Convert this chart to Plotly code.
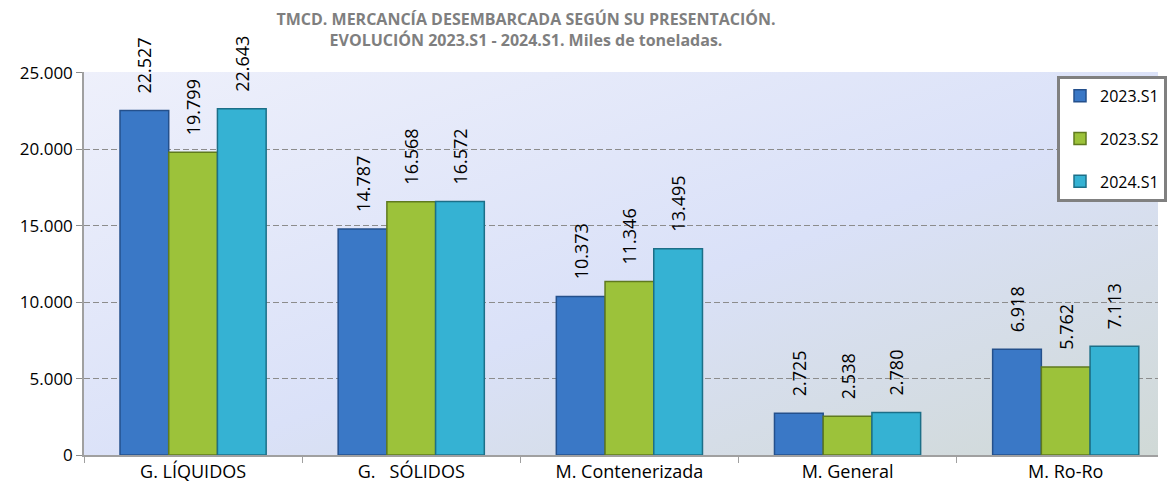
import plotly.graph_objects as go

categories = ['G. LÍQUIDOS', 'G.\u00a0\u00a0\u00a0SÓLIDOS', 'M. Contenerizada', 'M. General', 'M. Ro-Ro']
s2023_1 = [22527, 14787, 10373, 2725, 6918]
s2023_2 = [19799, 16568, 11346, 2538, 5762]
s2024_1 = [22643, 16572, 13495, 2780, 7113]

series = [
    ('2023.S1', s2023_1, '#3a78c6', '#24508c'),
    ('2023.S2', s2023_2, '#9cc23a', '#5f7a1e'),
    ('2024.S1', s2024_1, '#35b2d3', '#1c6f88'),
]

FONT = 'Open Sans'

# the page body has an 8px margin, so the figure is sized to fit inside it
W, H = 1159, 474

bg_svg = (
    "data:image/svg+xml;utf8,"
    "<svg xmlns='http://www.w3.org/2000/svg' width='1000' height='400' preserveAspectRatio='none'>"
    "<defs><linearGradient id='g' x1='0' y1='0' x2='1' y2='1'>"
    "<stop offset='0' stop-color='%23eef0fb'/>"
    "<stop offset='0.55' stop-color='%23dae1f8'/>"
    "<stop offset='1' stop-color='%23d0d9d6'/>"
    "</linearGradient></defs>"
    "<rect width='1000' height='400' fill='url(%23g)'/></svg>"
)

fig = go.Figure()
for name, vals, color, edge in series:
    fig.add_trace(go.Bar(
        name=name, x=categories, y=vals,
        legendgroup=name,
        marker=dict(color=color, line=dict(color=edge, width=1.5)),
        texttemplate='\u00a0\u00a0\u00a0%{y:,d}', textposition='outside', textangle=-90,
        textfont=dict(family=FONT, size=18, color='#000000'),
        constraintext='none',
        cliponaxis=False,
    ))

fig.update_layout(
    width=W, height=H,
    margin=dict(l=76, r=0, t=64, b=27),
    separators=',.',
    barmode='group', bargap=0.33, bargroupgap=0,
    paper_bgcolor='white', plot_bgcolor='rgba(0,0,0,0)',
    font=dict(family=FONT, size=16, color='#000000'),
    title=dict(
        text='TMCD. MERCANCÍA DESEMBARCADA SEGÚN SU PRESENTACIÓN.<br>EVOLUCIÓN 2023.S1 - 2024.S1. Miles de toneladas.',
        x=518 / W, xanchor='center', yref='container', y=1 - 17 / H, yanchor='top',
        font=dict(family=FONT, size=16, color='#7f7f7f', weight='bold'),
    ),
    legend=dict(
        x=0.906, y=0.99, xanchor='left', yanchor='top',
        bgcolor='white', bordercolor='#808080', borderwidth=3,
        font=dict(family=FONT, size=16),
        tracegroupgap=19, itemwidth=30,
    ),
    images=[dict(source=bg_svg, xref='paper', yref='paper', x=0, y=1,
                 sizex=1, sizey=1, sizing='stretch', layer='below')],
)

fig.update_xaxes(
    range=[-0.5, 4.423],
    showline=True, linecolor='#a0a0a0', linewidth=1.5,
    ticks='outside', tickson='boundaries', ticklen=6, tickcolor='#a0a0a0',
    tickfont=dict(family=FONT, size=18),
    showgrid=False,
)
fig.update_yaxes(
    range=[0, 25050], tickvals=[0, 5000, 10000, 15000, 20000, 25000],
    tickformat=',d',
    showline=True, linecolor='#a0a0a0', linewidth=1.5,
    ticks='outside', ticklen=6, tickcolor='#8c8c8c',
    showgrid=True, gridcolor='#8c8c8c', griddash='6px,3px', gridwidth=1.3,
    zeroline=False,
    tickfont=dict(family=FONT, size=17),
)

fig.write_html('out.html')
